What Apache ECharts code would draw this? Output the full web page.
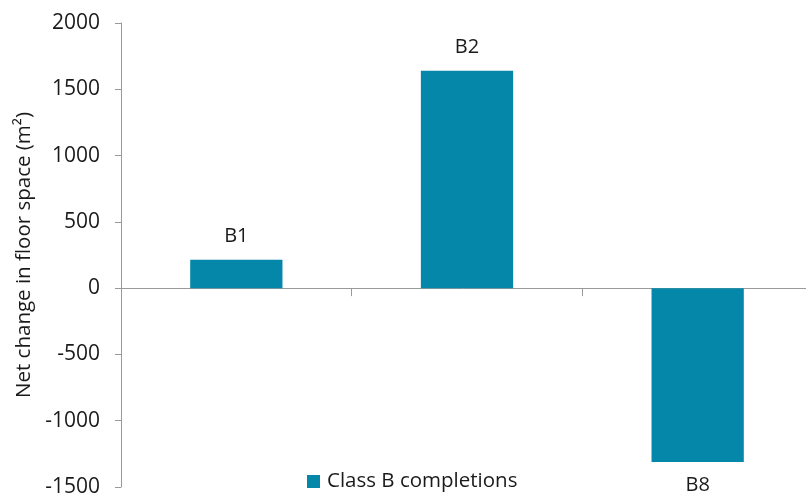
<!DOCTYPE html>
<html>
<head>
<meta charset="utf-8">
<script src="https://cdn.jsdelivr.net/npm/echarts@6/dist/echarts.min.js"></script>
<style>
  html, body { margin: 0; padding: 0; background: #fff; }
  #chart { width: 806px; height: 497px; }
</style>
</head>
<body>
<div id="chart"></div>
<script>
// Net change in Class B floor space by use class
const categories = ['B1', 'B2', 'B8'];
const netChange = [215, 1640, -1312];
const seriesName = 'Class B completions';
const yTicks = { min: -1500, max: 2000, interval: 500 };

const FONT = '"Open Sans", sans-serif';
const TEXT = '#1a1a1a';
const AXIS = '#9a9a9a';
const BAR = '#0487a9';

const chart = echarts.init(document.getElementById('chart'), null, { renderer: 'canvas' });

chart.setOption({
  animation: false,
  textStyle: { fontFamily: FONT },
  // the plot area runs slightly past the right edge of the canvas
  grid: {
    left: 121, width: 692, top: 23, bottom: 10,
    containLabel: false,
    outerBoundsMode: 'none'
  },
  legend: {
    data: [seriesName],
    left: 302,
    top: 466,
    icon: 'rect',
    itemWidth: 13,
    itemHeight: 13,
    itemGap: 10,
    textStyle: { fontFamily: FONT, fontSize: 20.5, color: TEXT, padding: [0, 0, 0, 2] }
  },
  xAxis: {
    type: 'category',
    data: categories,
    axisLine: { onZero: true, lineStyle: { color: AXIS, width: 1 } },
    axisTick: { show: true, alignWithLabel: false, length: 8, lineStyle: { color: AXIS } },
    axisLabel: { show: false },
    splitLine: { show: false }
  },
  yAxis: {
    type: 'value',
    min: yTicks.min,
    max: yTicks.max,
    interval: yTicks.interval,
    name: 'Net change in floor space (m²)',
    nameLocation: 'middle',
    nameGap: 86,
    nameTextStyle: { fontFamily: FONT, fontSize: 20.5, color: TEXT },
    axisLine: { show: true, lineStyle: { color: AXIS, width: 1 } },
    axisTick: { show: true, length: 6, lineStyle: { color: AXIS } },
    axisLabel: {
      margin: 21,
      fontFamily: FONT,
      fontSize: 21,
      color: TEXT,
      formatter: (v) => String(v)
    },
    splitLine: { show: false }
  },
  series: [{
    name: seriesName,
    type: 'bar',
    barWidth: '40%',
    itemStyle: { color: BAR },
    data: netChange.map((v, i) => ({
      value: v,
      label: {
        show: true,
        position: v >= 0 ? 'top' : 'bottom',
        distance: 13,
        formatter: categories[i],
        fontFamily: FONT,
        fontSize: 20,
        color: TEXT
      }
    }))
  }]
});
</script>
</body>
</html>
